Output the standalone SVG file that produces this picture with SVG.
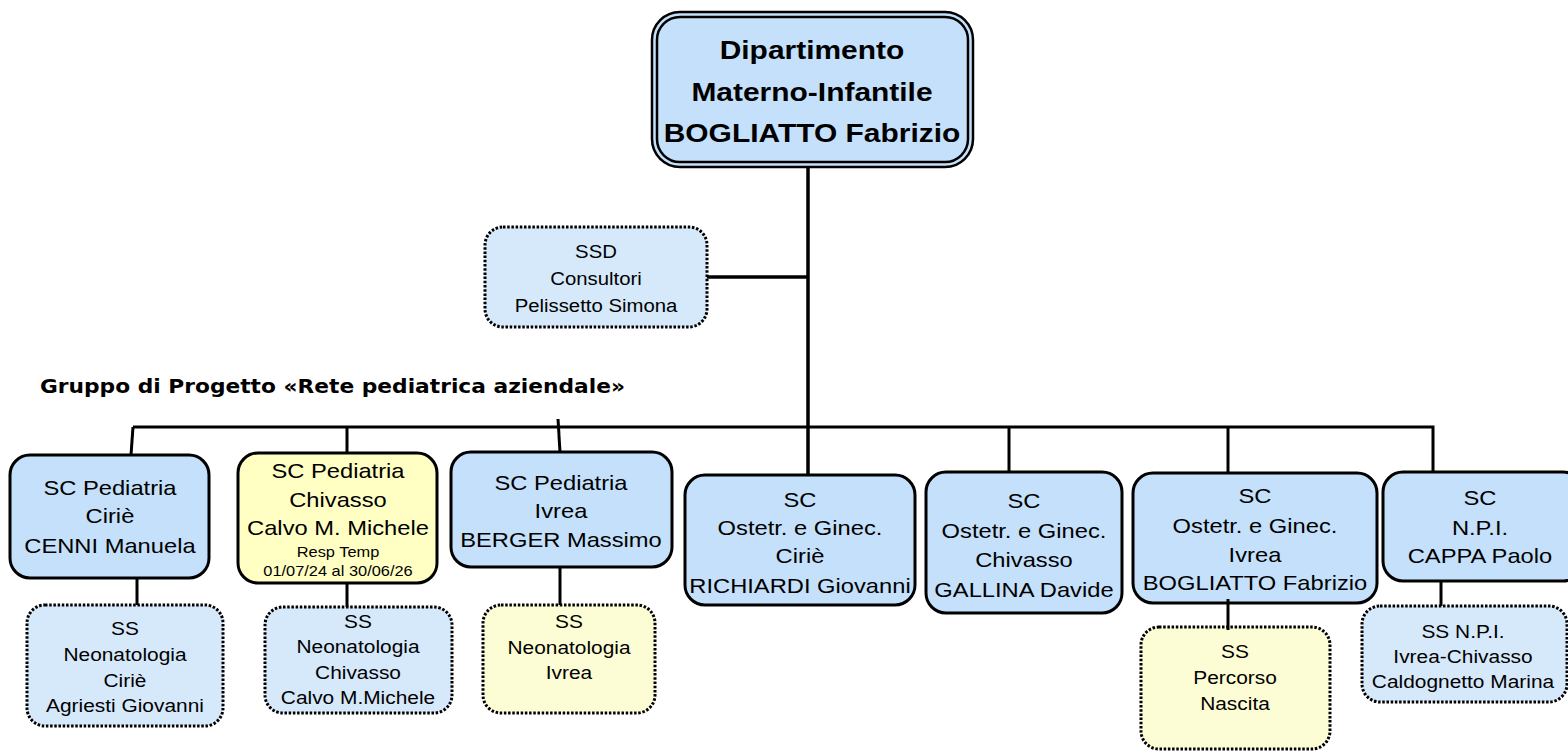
<svg xmlns="http://www.w3.org/2000/svg" width="1568" height="752" viewBox="0 0 1568 752">
<style>
.t{font-family:"Liberation Sans",Arial,sans-serif;text-anchor:middle;fill:#000;transform-box:fill-box;transform-origin:50% 50%;transform:scaleX(1.13)}
.top{font-size:26.5px;font-weight:bold}
.sc{font-size:21px}
.ss{font-size:18.5px}
.ssd{font-size:18px}
.sm{font-size:14.5px}
.bsc{fill:#c5e0fa;stroke:#000;stroke-width:3}
.ysc{fill:#ffffc4;stroke:#000;stroke-width:3}
.bss{fill:#d6e9fb;stroke:#000;stroke-width:3;stroke-dasharray:2.5 1.7}
.yss{fill:#fdfdd5;stroke:#000;stroke-width:3;stroke-dasharray:2.5 1.7}
.ln{stroke:#000;stroke-width:3;fill:none}
</style>
<rect width="1568" height="752" fill="#fff"/>
<g id="connectors" class="ln">
<line x1="808" y1="167" x2="808" y2="475" stroke-width="3.5"/>
<line x1="707" y1="277" x2="808" y2="277" stroke-width="3.5"/>
<polyline points="133,427 1433,427 1433,472"/>
<line x1="133" y1="427" x2="131" y2="455"/>
<line x1="347" y1="427" x2="347" y2="453"/>
<line x1="558" y1="419" x2="560" y2="452"/>
<line x1="1009" y1="427" x2="1009" y2="472"/>
<line x1="1228" y1="427" x2="1228" y2="473"/>
<line x1="137" y1="578" x2="137" y2="605"/>
<line x1="347" y1="583" x2="347" y2="607"/>
<line x1="560" y1="567" x2="560" y2="605"/>
<line x1="1441" y1="581" x2="1441" y2="606"/>
</g>
<g id="n-dip">
<rect x="652" y="12" width="321" height="155" rx="28" fill="#c5e0fa" stroke="#000" stroke-width="2.5"/>
<rect x="657" y="17" width="311" height="145" rx="23" fill="#c5e0fa" stroke="#000" stroke-width="2.5"/>
<text class="t top"><tspan x="812" y="59">Dipartimento</tspan><tspan x="812" y="101">Materno-Infantile</tspan><tspan x="812" y="142">BOGLIATTO Fabrizio</tspan></text>
</g>
<g id="n-ssd">
<rect class="bss" x="485" y="227" width="222" height="100" rx="18"/>
<text class="t ssd"><tspan x="596" y="258">SSD</tspan><tspan x="596" y="285">Consultori</tspan><tspan x="596" y="312">Pelissetto Simona</tspan></text>
</g>
<g id="title">
<text x="40" y="393" font-family="'DejaVu Sans',Verdana,sans-serif" font-weight="bold" font-size="20" textLength="585" lengthAdjust="spacingAndGlyphs">Gruppo di Progetto «Rete pediatrica aziendale»</text>
</g>
<g id="n-ped-cirie">
<rect class="bsc" x="10" y="455" width="199" height="123" rx="20"/>
<text class="t sc"><tspan x="110" y="495">SC Pediatria</tspan><tspan x="110" y="523">Ciriè</tspan><tspan x="110" y="553">CENNI Manuela</tspan></text>
</g>
<g id="n-ped-chivasso">
<rect class="ysc" x="238" y="453" width="199" height="130" rx="20"/>
<text class="t sc"><tspan x="338" y="478">SC Pediatria</tspan><tspan x="338" y="507">Chivasso</tspan><tspan x="338" y="535">Calvo M. Michele</tspan><tspan x="338" y="557" class="sm">Resp Temp</tspan><tspan x="338" y="576" class="sm">01/07/24 al 30/06/26</tspan></text>
</g>
<g id="n-ped-ivrea">
<rect class="bsc" x="451" y="452" width="221" height="115" rx="20"/>
<text class="t sc"><tspan x="561" y="490">SC Pediatria</tspan><tspan x="561" y="518">Ivrea</tspan><tspan x="561" y="547">BERGER Massimo</tspan></text>
</g>
<g id="n-ost-cirie">
<rect class="bsc" x="685" y="475" width="230" height="130" rx="20"/>
<text class="t sc"><tspan x="800" y="507">SC</tspan><tspan x="800" y="535">Ostetr. e Ginec.</tspan><tspan x="800" y="563">Ciriè</tspan><tspan x="800" y="593">RICHIARDI Giovanni</tspan></text>
</g>
<g id="n-ost-chivasso">
<rect class="bsc" x="926" y="472" width="196" height="141" rx="20"/>
<text class="t sc"><tspan x="1024" y="508">SC</tspan><tspan x="1024" y="538">Ostetr. e Ginec.</tspan><tspan x="1024" y="567">Chivasso</tspan><tspan x="1024" y="597">GALLINA Davide</tspan></text>
</g>
<g id="n-ost-ivrea">
<rect class="bsc" x="1133" y="473" width="244" height="130" rx="20"/>
<text class="t sc"><tspan x="1255" y="503">SC</tspan><tspan x="1255" y="533">Ostetr. e Ginec.</tspan><tspan x="1255" y="562">Ivrea</tspan><tspan x="1255" y="590">BOGLIATTO Fabrizio</tspan></text>
</g>
<g id="n-npi">
<rect class="bsc" x="1383" y="472" width="200" height="109" rx="20"/>
<text class="t sc"><tspan x="1480" y="505">SC</tspan><tspan x="1480" y="535">N.P.I.</tspan><tspan x="1480" y="563">CAPPA Paolo</tspan></text>
</g>
<g id="n-neo-cirie">
<rect class="bss" x="27" y="605" width="196" height="121" rx="18"/>
<text class="t ss"><tspan x="125" y="635">SS</tspan><tspan x="125" y="661">Neonatologia</tspan><tspan x="125" y="687">Ciriè</tspan><tspan x="125" y="712">Agriesti Giovanni</tspan></text>
</g>
<g id="n-neo-chivasso">
<rect class="bss" x="265" y="607" width="187" height="106" rx="18"/>
<text class="t ss"><tspan x="358" y="628">SS</tspan><tspan x="358" y="653">Neonatologia</tspan><tspan x="358" y="679">Chivasso</tspan><tspan x="358" y="704">Calvo M.Michele</tspan></text>
</g>
<g id="n-neo-ivrea">
<rect class="yss" x="483" y="605" width="172" height="108" rx="18"/>
<text class="t ss"><tspan x="569" y="628">SS</tspan><tspan x="569" y="654">Neonatologia</tspan><tspan x="569" y="679">Ivrea</tspan></text>
</g>
<g id="n-percorso">
<rect class="yss" x="1141" y="627" width="189" height="122" rx="18"/>
<text class="t ss"><tspan x="1235" y="658">SS</tspan><tspan x="1235" y="684">Percorso</tspan><tspan x="1235" y="710">Nascita</tspan></text>
</g>
<g id="n-ss-npi">
<rect class="bss" x="1362" y="606" width="205" height="96" rx="18"/>
<text class="t ss"><tspan x="1463" y="638">SS N.P.I.</tspan><tspan x="1463" y="663">Ivrea-Chivasso</tspan><tspan x="1463" y="688">Caldognetto Marina</tspan></text>
</g>
<g id="connectors-over" class="ln">
<line x1="1228" y1="599" x2="1228" y2="630"/>
</g>
</svg>
